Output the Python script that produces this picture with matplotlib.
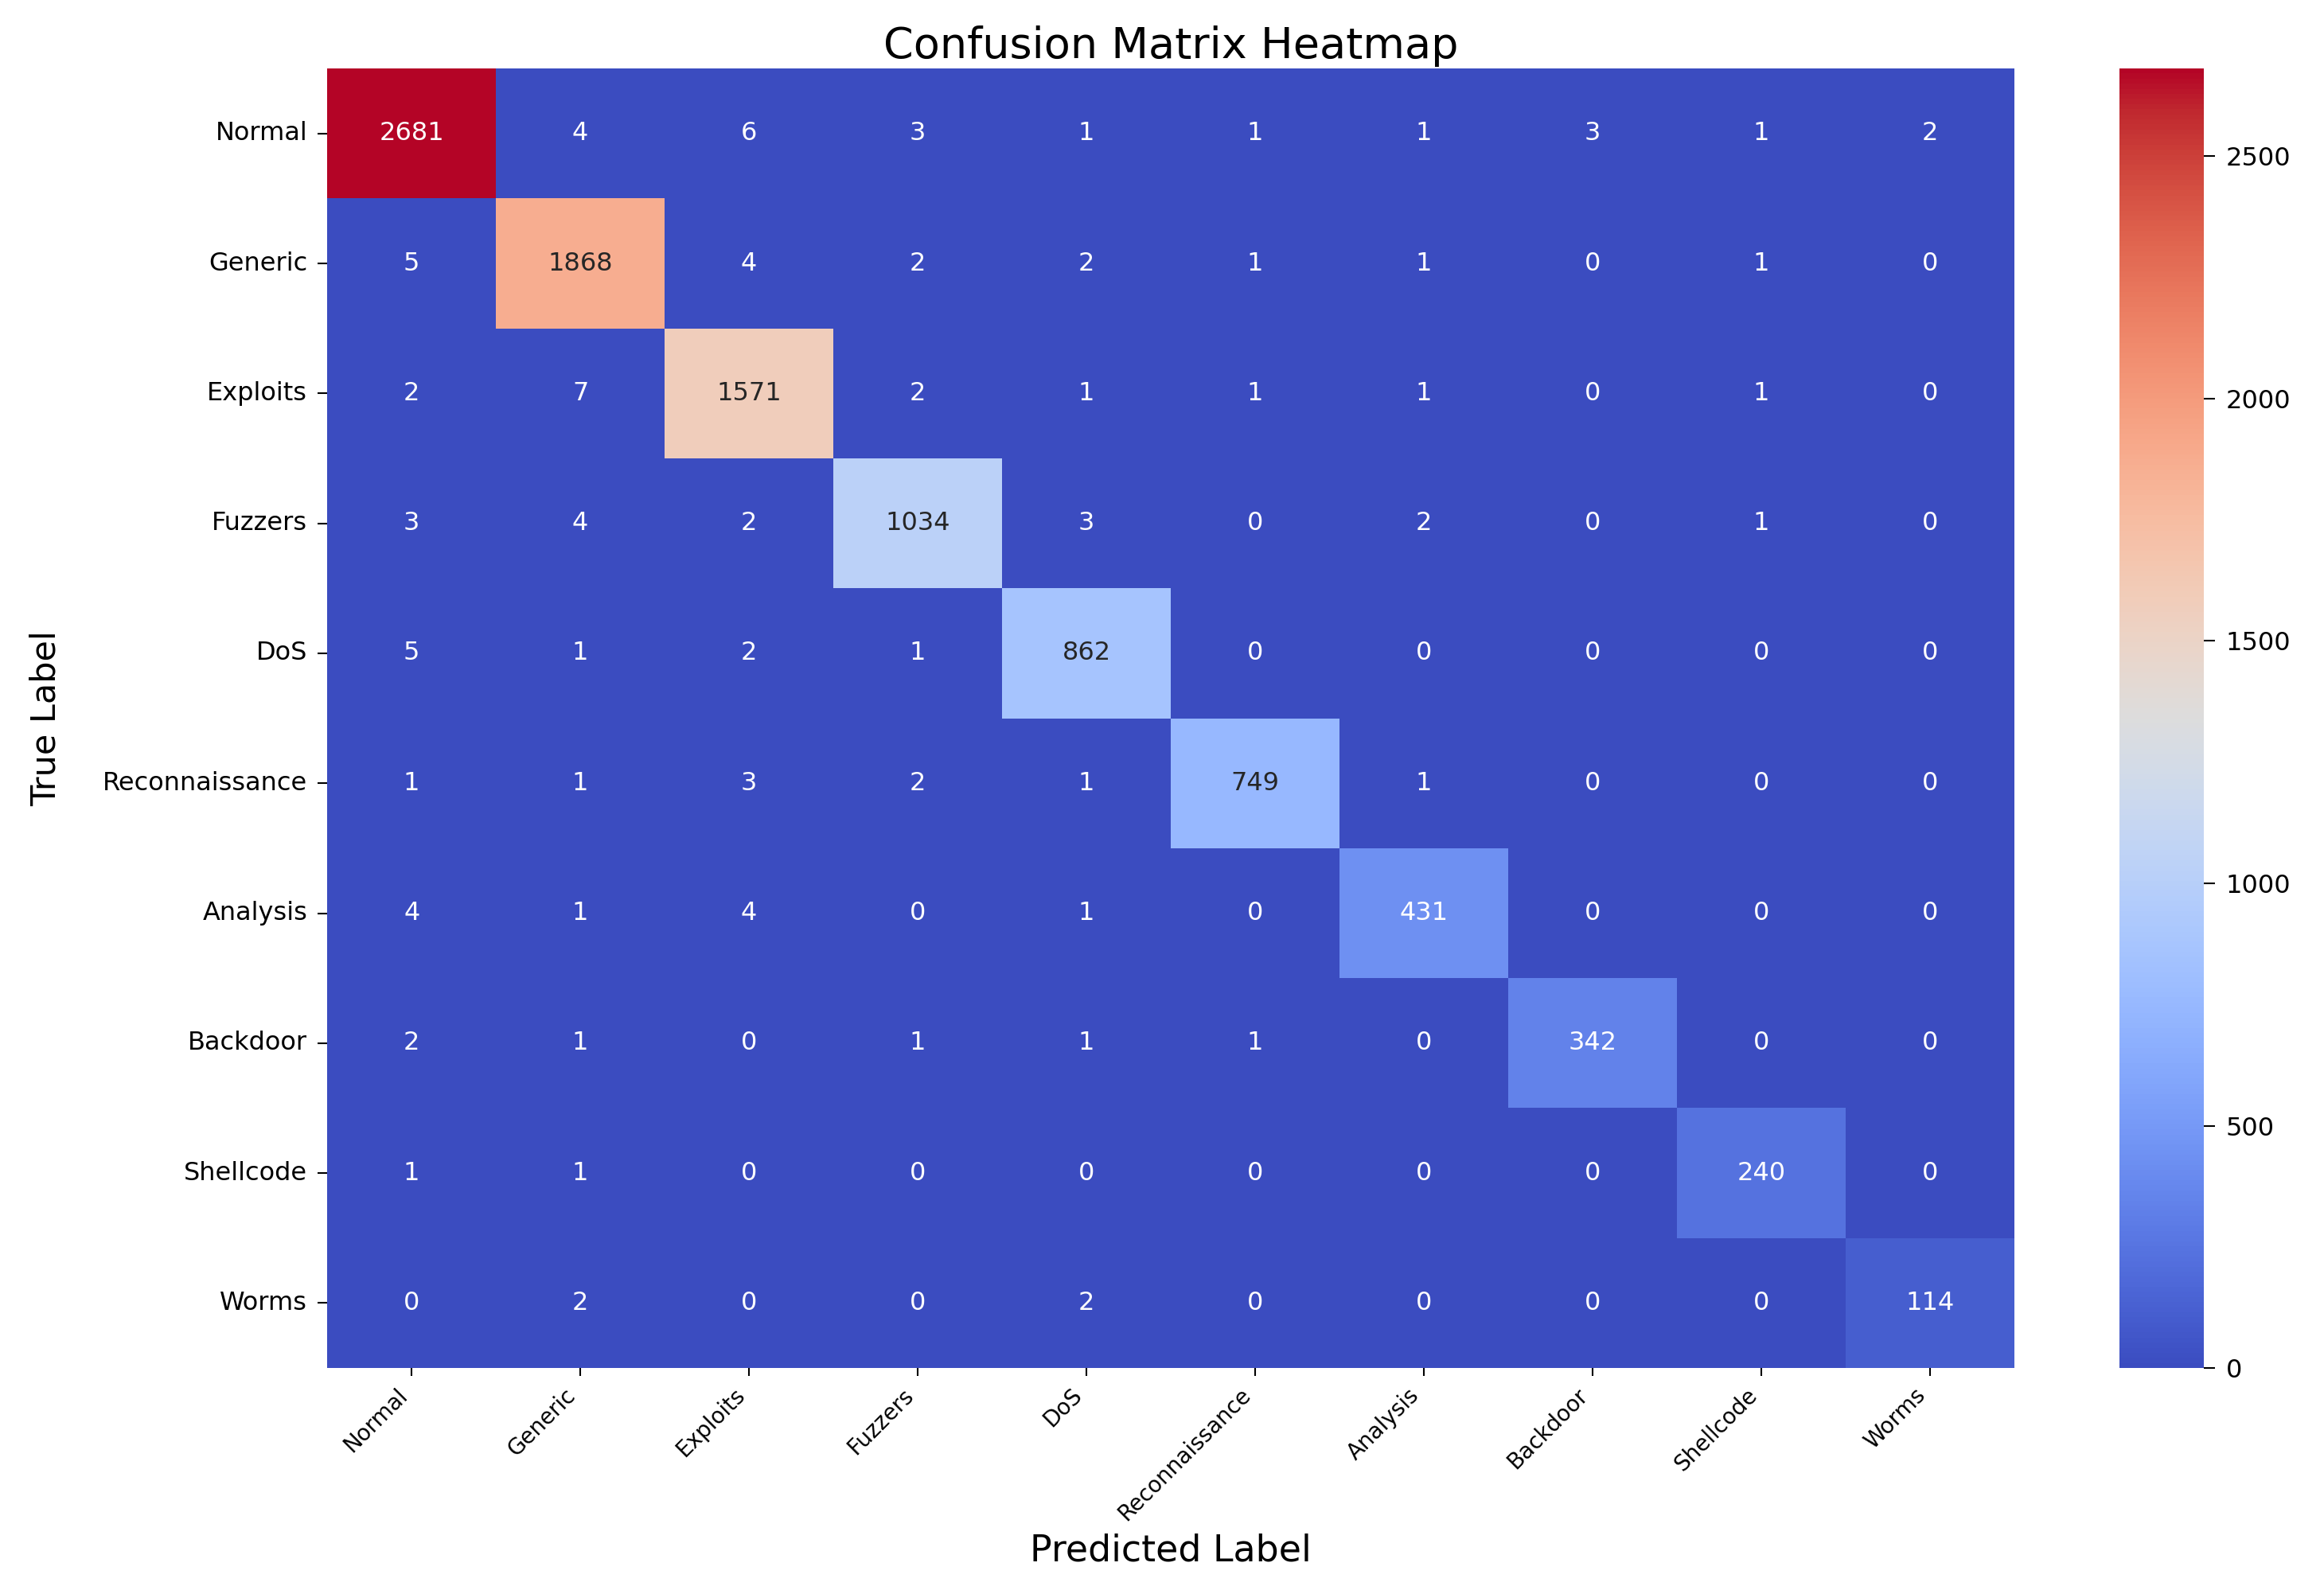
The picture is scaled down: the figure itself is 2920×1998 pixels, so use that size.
import matplotlib
matplotlib.use('Agg')
import numpy as np
import matplotlib.pyplot as plt
import seaborn as sns

# class names (same order for rows and columns)
labels = ['Normal', 'Generic', 'Exploits', 'Fuzzers', 'DoS',
          'Reconnaissance', 'Analysis', 'Backdoor', 'Shellcode', 'Worms']

# one row of the confusion matrix per true class
normal = [2681, 4, 6, 3, 1, 1, 1, 3, 1, 2]
generic = [5, 1868, 4, 2, 2, 1, 1, 0, 1, 0]
exploits = [2, 7, 1571, 2, 1, 1, 1, 0, 1, 0]
fuzzers = [3, 4, 2, 1034, 3, 0, 2, 0, 1, 0]
dos = [5, 1, 2, 1, 862, 0, 0, 0, 0, 0]
recon = [1, 1, 3, 2, 1, 749, 1, 0, 0, 0]
analysis = [4, 1, 4, 0, 1, 0, 431, 0, 0, 0]
backdoor = [2, 1, 0, 1, 1, 1, 0, 342, 0, 0]
shellcode = [1, 1, 0, 0, 0, 0, 0, 0, 240, 0]
worms = [0, 2, 0, 0, 2, 0, 0, 0, 0, 114]

cm = np.array([normal, generic, exploits, fuzzers, dos,
               recon, analysis, backdoor, shellcode, worms])

fig = plt.figure(figsize=(29.2, 19.98), dpi=100)
ax = fig.add_axes([0.1408, 0.1396, 0.7260, 0.8173])
cax = fig.add_axes([0.912, 0.1396, 0.0363, 0.8173])

sns.heatmap(cm, annot=True, fmt='d', cmap='coolwarm',
            xticklabels=labels, yticklabels=labels,
            ax=ax, cbar_ax=cax, annot_kws={'size': 23})

ax.set_title('Confusion Matrix Heatmap', fontsize=39, pad=9.4)
ax.set_xlabel('Predicted Label', fontsize=33)
ax.set_ylabel('True Label', fontsize=31)
ax.xaxis.set_label_coords(0.5, -0.127)
ax.yaxis.set_label_coords(-0.157, 0.5)

plt.setp(ax.get_xticklabels(), rotation=45, ha='right')
plt.setp(ax.get_yticklabels(), rotation=0)
ax.tick_params(axis='x', labelsize=20, length=7.5, width=1.5, pad=7)
ax.tick_params(axis='y', labelsize=23, length=9, width=1.5, pad=9)
cax.tick_params(labelsize=23, length=10, width=1.5, pad=10)

fig.savefig('out.png', dpi=100)
